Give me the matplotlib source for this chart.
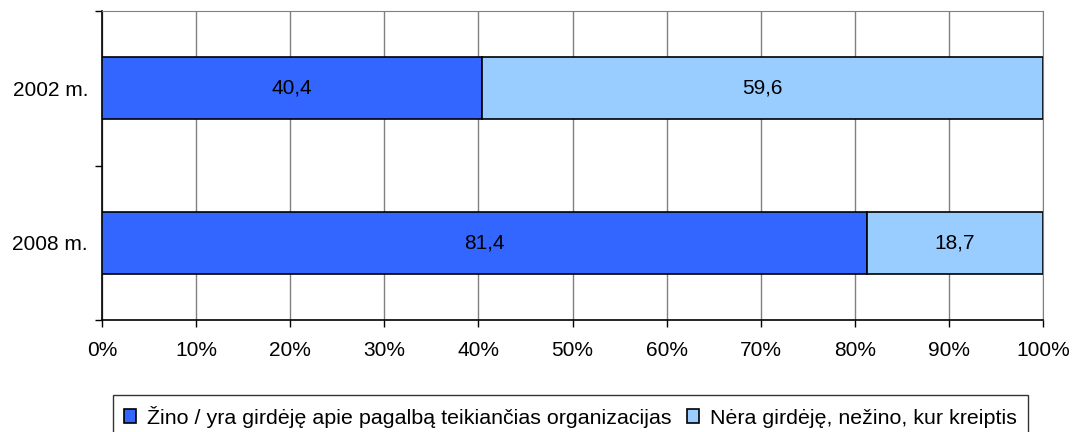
import numpy as np
import matplotlib.pyplot as plt

years = ["2008 m.", "2002 m."]
knows = [81.4, 40.4]
not_heard = [18.7, 59.6]
series_names = ["Žino / yra girdėję apie pagalbą teikiančias organizacijas",
                "Nėra girdėję, nežino, kur kreiptis"]
colors = ["#3366FF", "#99CCFF"]

plt.rcParams['font.family'] = ['Liberation Sans', 'DejaVu Sans']
fs = 15

fig = plt.figure(figsize=(10.72, 4.32), dpi=100)
ax = fig.add_axes([102 / 1072, 1 - 320 / 432, (1043 - 102) / 1072, (320 - 11) / 432])

k = np.array(knows)
n = np.array(not_heard)
tot = k + n
kp = k / tot * 100
np_ = n / tot * 100
y = np.arange(len(years))

b1 = ax.barh(y, kp, height=0.4, color=colors[0], edgecolor="black", linewidth=1.2,
             label=series_names[0], zorder=3)
b2 = ax.barh(y, np_, left=kp, height=0.4, color=colors[1], edgecolor="black", linewidth=1.2,
             label=series_names[1], zorder=3)

for i in range(len(years)):
    ax.text(kp[i] / 2, y[i], f"{knows[i]:.1f}".replace(".", ","), ha="center", va="center",
            fontsize=fs, zorder=4)
    ax.text(kp[i] + np_[i] / 2, y[i], f"{not_heard[i]:.1f}".replace(".", ","), ha="center",
            va="center", fontsize=fs, zorder=4)

ax.set_xlim(0, 100)
ax.set_ylim(-0.5, 1.5)
ax.set_xticks(np.arange(0, 101, 10))
ax.set_xticklabels([f"{v}%" for v in range(0, 101, 10)], fontsize=fs)
ax.set_yticks(y)
ax.set_yticklabels(years, fontsize=fs)
ax.set_yticks([-0.5, 0.5, 1.5], minor=True)
ax.tick_params(axis="y", which="major", length=0, pad=10)
ax.tick_params(axis="y", which="minor", length=5, width=1, color="black")
ax.tick_params(axis="x", length=5, width=1, pad=10)

ax.grid(axis="x", color="#808080", linewidth=1, zorder=0)
for s in ["top", "right"]:
    ax.spines[s].set_color("#808080")
for s in ["left", "bottom"]:
    ax.spines[s].set_color("black")
    ax.spines[s].set_linewidth(1.2)

leg = fig.legend(handles=[b1, b2], loc="upper center", bbox_to_anchor=(0.532, 1 - 395 / 432),
                 ncol=2, frameon=True, fancybox=False, edgecolor="black", fontsize=15.4,
                 handlelength=0.6, handleheight=0.6, handletextpad=0.5, columnspacing=0.7,
                 borderpad=0.5, borderaxespad=0)
leg.get_frame().set_linewidth(1)

fig.savefig("out.png", dpi=100)
